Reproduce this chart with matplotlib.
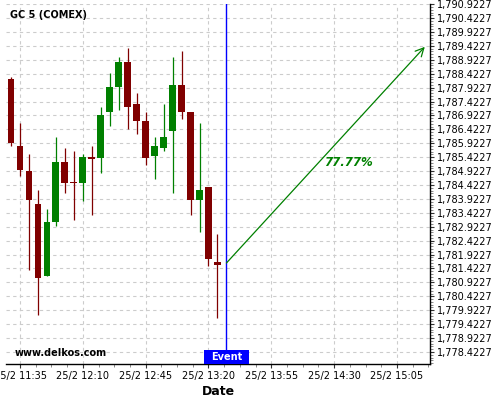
import numpy as np
import pandas as pd
import matplotlib
matplotlib.use('Agg')
import matplotlib.pyplot as plt
import matplotlib.ticker as mticker
import matplotlib.dates as mdates
from matplotlib.patches import Rectangle
import matplotlib.transforms as mtransforms

# -----------------------------------------------------------------------------
# data (5 minute candles, 25/2)
# -----------------------------------------------------------------------------
times = pd.date_range('2025-02-25 11:30', periods=24, freq='5min')

opens = [1788.24, 1785.83, 1784.94, 1783.75, 1781.16, 1783.08, 1785.26, 1784.54,
         1784.48, 1785.41, 1785.38, 1787.06, 1787.96, 1788.85, 1787.34, 1786.74,
         1785.45, 1785.77, 1786.35, 1788.02, 1787.05, 1783.87, 1784.36, 1781.67]
highs = [1788.32, 1786.65, 1785.55, 1784.25, 1783.56, 1786.15, 1785.75, 1785.65,
         1785.55, 1785.81, 1787.22, 1788.44, 1789.02, 1789.34, 1787.73, 1787.04,
         1786.15, 1787.33, 1789.02, 1789.23, 1787.05, 1786.65, 1784.36, 1782.66]
lows = [1785.81, 1784.76, 1781.38, 1779.75, 1781.14, 1782.96, 1784.13, 1783.17,
        1783.86, 1783.35, 1784.85, 1786.53, 1787.12, 1786.43, 1786.25, 1785.14,
        1784.64, 1785.65, 1784.13, 1786.81, 1783.34, 1782.73, 1781.52, 1779.64]
closes = [1785.95, 1784.95, 1783.87, 1781.07, 1783.08, 1785.26, 1784.48, 1784.48,
          1785.44, 1785.37, 1786.95, 1787.95, 1788.85, 1787.24, 1786.74, 1785.38,
          1785.83, 1786.16, 1788.02, 1787.06, 1783.87, 1784.25, 1781.78, 1781.56]

event_time = pd.Timestamp('2025-02-25 13:30')
target_time = pd.Timestamp('2025-02-25 15:20:30')
start_price = 1781.62
target_price = 1789.39
prob_time = pd.Timestamp('2025-02-25 14:38')
prob_price = 1785.22
prob_label = '77.77%'

xtick_times = pd.date_range('2025-02-25 11:35', periods=7, freq='35min')
xtick_labels = ['25/2 11:35', '25/2 12:10', '25/2 12:45', '25/2 13:20',
                '25/2 13:55', '25/2 14:30', '25/2 15:05']
ytick_base = 1778.4227
ytick_step = 0.5
n_yticks = 26

# -----------------------------------------------------------------------------
# plot
# -----------------------------------------------------------------------------
RED = '#800000'
GREEN = '#008000'

fig = plt.figure(figsize=(5, 4), dpi=100)
ax = fig.add_axes([0.012, 0.09, 0.848, 0.90])

x = mdates.date2num(times)
o = np.array(opens)
h = np.array(highs)
l = np.array(lows)
c = np.array(closes)
colors = [GREEN if cc > oo else RED for oo, cc in zip(o, c)]

width = 3.8 / 1440.0
ax.vlines(x, l, h, colors=colors, linewidth=0.9, zorder=3)
body_bottom = np.minimum(o, c)
body_height = np.maximum(np.abs(c - o), 0.05)
ax.bar(x, body_height, width=width, bottom=body_bottom, color=colors,
       linewidth=0, zorder=4)

# event line + label
ev = mdates.date2num(event_time)
ax.axvline(ev, color='#0000ff', linewidth=1, zorder=5)
trans = mtransforms.blended_transform_factory(ax.transData, ax.transAxes)
half = 12.3 / 1440.0
ax.add_patch(Rectangle((ev - half, 0.0), 2 * half, 0.038, transform=trans,
                       facecolor='#0000ff', edgecolor='none', zorder=6,
                       clip_on=False))
ax.text(ev, 0.019, 'Event', transform=trans, ha='center', va='center',
        color='white', fontsize=7, fontweight='bold', zorder=7)

# forecast arrow
ax.annotate('', xy=(mdates.date2num(target_time), target_price),
            xytext=(ev, start_price),
            arrowprops=dict(arrowstyle='->,head_length=0.6,head_width=0.3',
                            color=GREEN, lw=0.9, shrinkA=0, shrinkB=0),
            zorder=6)
ax.text(mdates.date2num(prob_time), prob_price, prob_label, ha='center',
        va='center', color=GREEN, fontsize=8.5, fontweight='bold',
        fontstyle='italic', zorder=7)

# titles
ax.text(0.009, 0.969, 'GC 5 (COMEX)', transform=ax.transAxes, ha='left',
        va='center', fontsize=7, fontweight='bold', zorder=7)
ax.text(0.021, 0.031, 'www.delkos.com', transform=ax.transAxes, ha='left',
        va='center', fontsize=7, fontweight='bold', zorder=7)

# axes
ax.set_xlim(mdates.date2num(pd.Timestamp('2025-02-25 11:27:12')),
            mdates.date2num(pd.Timestamp('2025-02-25 15:23:24')))
ax.set_ylim(1777.99, 1790.93)

ax.xaxis.set_major_locator(mticker.FixedLocator(mdates.date2num(xtick_times)))
ax.xaxis.set_major_formatter(mticker.FixedFormatter(xtick_labels))
ax.xaxis.set_minor_locator(mticker.AutoMinorLocator(4))

yticks = [ytick_base + ytick_step * k for k in range(n_yticks)]
ax.yaxis.set_major_locator(mticker.FixedLocator(yticks))
ax.yaxis.set_major_formatter(mticker.FuncFormatter(lambda v, p: f'{v:,.4f}'))
ax.yaxis.set_minor_locator(mticker.AutoMinorLocator(5))
ax.yaxis.tick_right()

ax.tick_params(axis='both', which='major', labelsize=7, length=3, width=0.8,
               pad=2, color='#333333')
ax.tick_params(axis='both', which='minor', length=2, width=0.6,
               color='#777777')

ax.grid(True, which='major', color='#cccccc', linestyle=(0, (3, 3)),
        linewidth=0.8)
ax.set_axisbelow(True)

for side in ('top', 'left'):
    ax.spines[side].set_visible(False)
for side in ('right', 'bottom'):
    ax.spines[side].set_linewidth(1.0)

ax.set_xlabel('Date', fontsize=9, fontweight='bold', labelpad=3)

fig.savefig('out.png', dpi=100)
